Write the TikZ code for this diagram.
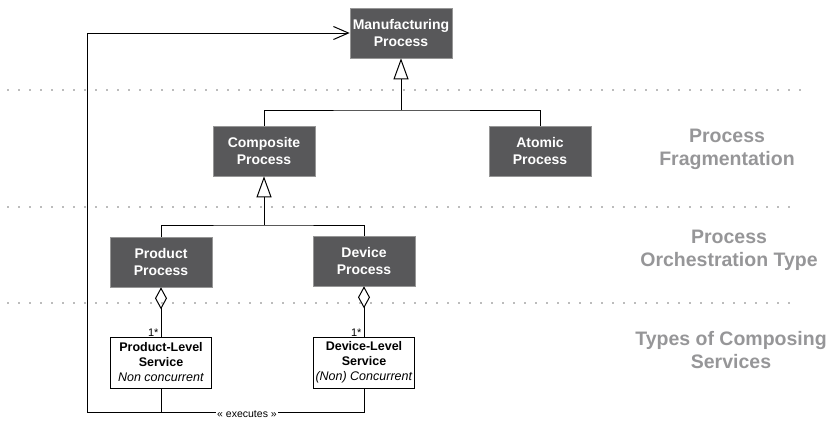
\documentclass[tikz,border=0pt]{standalone}
\usepackage{fontspec}
\setmainfont{Liberation Sans}
\usetikzlibrary{arrows.meta}
\definecolor{boxgray}{RGB}{88,88,90}
\definecolor{boxedge}{RGB}{150,150,150}
\definecolor{labelgray}{RGB}{150,150,152}
\definecolor{dotgray}{RGB}{120,120,120}

\begin{document}
\begin{tikzpicture}[x=1bp,y=-1bp,
  proc/.style={rectangle, fill=boxgray, draw=boxedge, line width=0.6bp,
    minimum width=102bp, minimum height=50bp, inner sep=0pt, align=center,
    text=white, font=\fontsize{14bp}{17bp}\selectfont\bfseries},
  svc/.style={rectangle, fill=white, draw=black, line width=0.9bp,
    minimum width=101bp, minimum height=51bp, inner sep=0pt, align=center,
    font=\fontsize{12.5bp}{15bp}\selectfont},
  layer/.style={text=labelgray, align=center,
    font=\fontsize{19.5bp}{23bp}\selectfont\bfseries},
  sep/.style={dotgray, line width=1.6bp, line cap=round, dash pattern=on 0pt off 11bp},
  link/.style={draw=black, line width=1bp},
  gen/.style={link, -{Triangle[open, length=21bp, width=15bp]}},
  agg/.style={link, {Diamond[open, length=22bp, width=12bp]}-},
  exec/.style={link, -{Straight Barb[length=15bp, width=13bp]}},
  mult/.style={font=\fontsize{11bp}{12bp}\selectfont, inner sep=1bp, anchor=south east},
]
\useasboundingbox (0,0) rectangle (835,420);

% layer separators
\draw[sep] (8,90) -- (808,90);
\draw[sep] (8,207) -- (791,207);
\draw[sep] (8,303) -- (796,303);

% layer captions
\node[layer] (l1) at (727,149) {Process\\Fragmentation};
\node[layer] (l2) at (729,250) {Process\\Orchestration Type};
\node[layer] (l3) at (731,350) {Types of Composing\\Services};

% process hierarchy
\node[proc] (mp) at (401,33) {Manufacturing\\Process};
\node[proc] (cp) at (264,151) {Composite\\Process};
\node[proc] (ap) at (540,151) {Atomic\\Process};
\node[proc] (pp) at (161,262) {Product\\Process};
\node[proc] (dp) at (364,261) {Device\\Process};

% composing services
\node[svc] (pls) at (161,362.5) {\textbf{Product-Level}\\\textbf{Service}\\\textit{Non concurrent}};
\node[svc] (dls) at (364,362.5) {\textbf{Device-Level}\\\textbf{Service}\\\textit{(Non) Concurrent}};

% generalisations
\coordinate (j1) at (401,110);
\draw[link] (cp.north) |- (j1) -| (ap.north);
\draw[gen] (j1) -- (mp.south);

\coordinate (j2) at (264,225);
\draw[link] (pp.north) |- (j2) -| (dp.north);
\draw[gen] (j2) -- (cp.south);

% aggregations
\draw[agg] (pp.south) -- (pls.north) node[mult, pos=1, xshift=-1bp, yshift=-1bp] {1*};
\draw[agg] (dp.south) -- (dls.north) node[mult, pos=1, xshift=-1bp, yshift=-1bp] {1*};

% executes loop back to the manufacturing process
\coordinate (b1) at (87,412.5);
\draw[exec] (dls.south) |- (b1) |- (mp.west);
\draw[link] (pls.south) -- (pls.south |- b1);
\node[fill=white, inner sep=1.5bp, font=\fontsize{10.5bp}{12bp}\selectfont] (ex) at (247,414) {« executes »};
\end{tikzpicture}
\end{document}
